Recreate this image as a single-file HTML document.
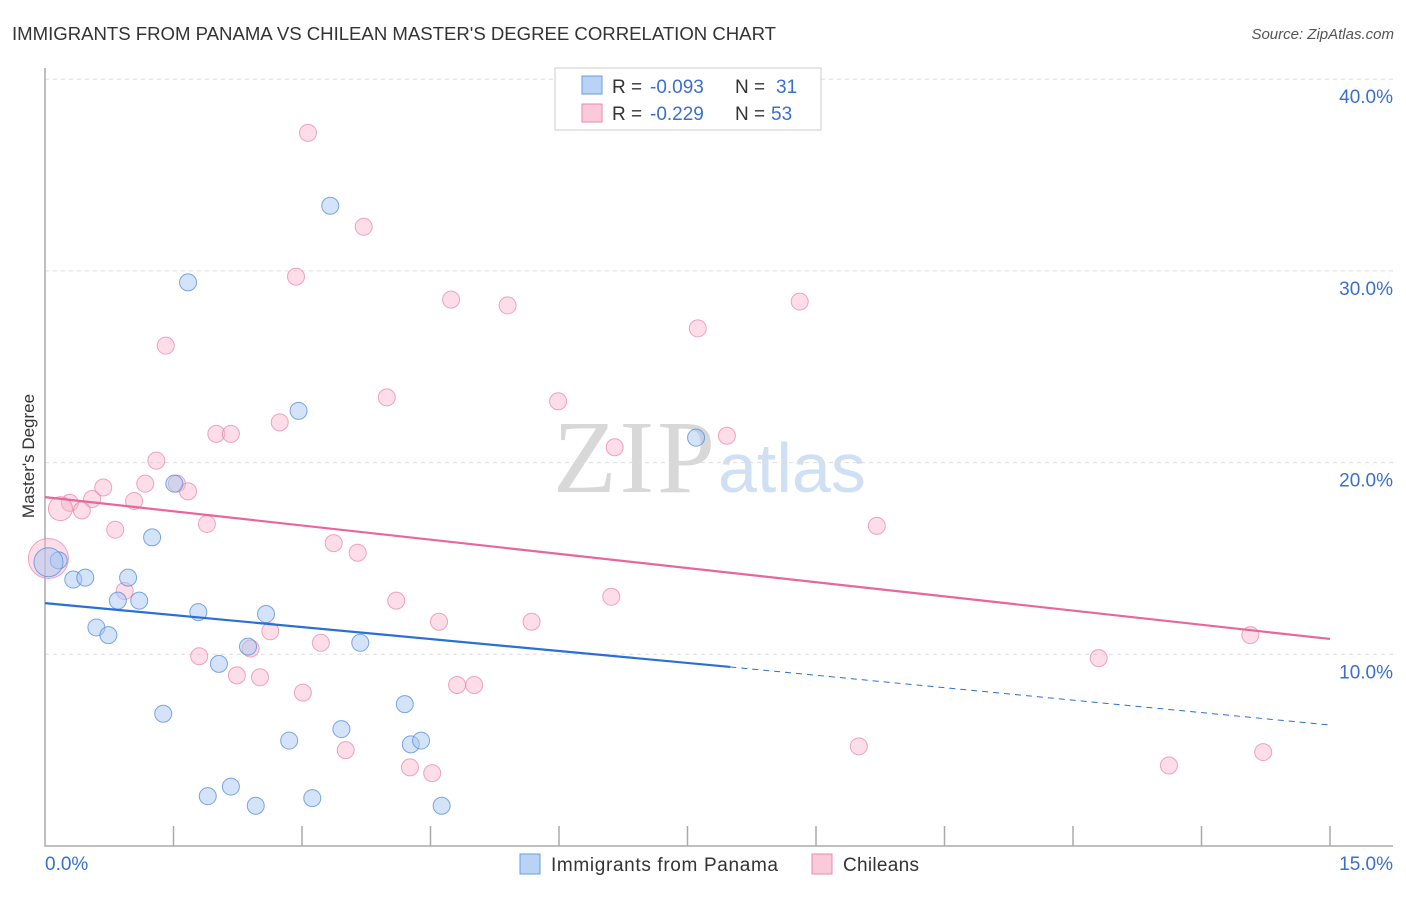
<!DOCTYPE html>
<html><head><meta charset="utf-8"><style>
body{margin:0;background:#fff;font-family:"Liberation Sans",sans-serif;}
</style></head><body>
<svg id="c" width="1406" height="892" font-family="Liberation Sans, sans-serif">
<text x="12" y="40" font-size="18.6" fill="#333" textLength="764">IMMIGRANTS FROM PANAMA VS CHILEAN MASTER'S DEGREE CORRELATION CHART</text>
<text x="1394" y="39" font-size="15" fill="#555" font-style="italic" text-anchor="end">Source: ZipAtlas.com</text>
<text x="34" y="456" font-size="17" fill="#333" text-anchor="middle" transform="rotate(-90 34 456)">Master's Degree</text>
<text x="553" y="492" font-size="104" fill="#d8d8d8" style="font-family:'Liberation Serif',serif" textLength="162">ZIP</text>
<text x="718" y="492" font-size="70" fill="#cfe0f5">atlas</text>
<g id="grid"></g><g id="pts"></g><g id="trend"></g>
<g>
<rect x="555" y="68" width="266" height="62" fill="#fff" stroke="#ccc"/>
<rect x="582" y="76" width="20" height="18" fill="#b8d3f5" stroke="#6a9ee0"/>
<rect x="582" y="104" width="20" height="18" fill="#fbcada" stroke="#e88aa8"/>
<text x="612" y="93" font-size="19" fill="#333">R =</text>
<text x="650" y="93" font-size="19" fill="#3a6fd0">-0.093</text>
<text x="735" y="93" font-size="19" fill="#333">N =</text>
<text x="776" y="93" font-size="19" fill="#3a6fd0">31</text>
<text x="612" y="120" font-size="19" fill="#333">R =</text>
<text x="650" y="120" font-size="19" fill="#3a6fd0">-0.229</text>
<text x="735" y="120" font-size="19" fill="#333">N =</text>
<text x="771" y="120" font-size="19" fill="#3a6fd0">53</text>
</g>
<g>
<rect x="520" y="854" width="20" height="20" fill="#b8d3f5" stroke="#6a9ee0"/>
<text x="551" y="871" font-size="19" fill="#333" textLength="227">Immigrants from Panama</text>
<rect x="812" y="854" width="20" height="20" fill="#fbcada" stroke="#e88aa8"/>
<text x="843" y="871" font-size="19" fill="#333" textLength="76">Chileans</text>
</g>
</svg>
<script>
const yTicks=[10,20,30,40];
const yTickLabels=["10.0%","20.0%","30.0%","40.0%"];
const blueX=[3.33,1.67,2.96,7.60,1.51,1.25,0.16,0.04,0.33,0.47,0.97,0.85,1.10,1.79,2.58,0.60,0.74,2.37,3.68,2.03,4.20,1.38,3.46,2.85,4.27,4.39,2.17,1.90,3.12,2.46,4.63];
const blueY=[33.4,29.4,22.7,21.3,18.9,16.1,14.9,14.8,13.9,14.0,14.0,12.8,12.8,12.2,12.1,11.4,11.0,10.4,10.6,9.5,7.4,6.9,6.1,5.5,5.3,5.5,3.1,2.6,2.5,2.1,2.1];
const blueR=[8,8,8,8,8,8,8,14,8,8,8,8,8,8,8,8,8,8,8,8,8,8,8,8,8,8,8,8,8,8,8];
const pinkX=[3.07,3.72,2.93,4.74,5.40,8.81,1.41,7.62,3.99,5.99,2.74,2.00,2.17,6.65,7.96,1.30,1.54,1.17,1.67,0.68,0.55,0.29,0.18,0.43,1.04,1.89,0.82,9.71,3.37,3.65,0.04,4.10,6.61,0.93,5.68,4.60,2.63,3.22,2.40,1.80,14.07,12.30,2.24,2.51,3.01,4.81,5.01,3.51,4.26,4.52,9.50,13.12,14.22];
const pinkY=[37.2,32.3,29.7,28.5,28.2,28.4,26.1,27.0,23.4,23.2,22.1,21.5,21.5,20.8,21.4,20.1,18.9,18.9,18.5,18.7,18.1,17.9,17.6,17.5,18.0,16.8,16.5,16.7,15.8,15.3,15.0,12.8,13.0,13.3,11.7,11.7,11.2,10.6,10.3,9.9,11.0,9.8,8.9,8.8,8.0,8.4,8.4,5.0,4.1,3.8,5.2,4.2,4.9];
const blueTrend=[12.67,9.34,6.31];
const pinkTrend=[18.2,10.8];
const X=v=>45+v/15*1285, Y=v=>846-v*19.17;
const NS="http://www.w3.org/2000/svg";
function mk(p,t,a){const e=document.createElementNS(NS,t);for(const k in a)e.setAttribute(k,a[k]);p.appendChild(e);return e;}
const g=document.getElementById('grid');
yTicks.forEach((t,i)=>{
 const l=mk(g,'line',{x1:45,x2:1393,y1:Y(t),y2:Y(t),stroke:'#ddd','stroke-dasharray':'4,4'});
 
 
 const tx=mk(g,'text',{x:1393,y:Y(t)+24,'font-size':19,fill:'#3a6fd0','text-anchor':'end'});
 tx.textContent=yTickLabels[i];
 
 
});
const ax=mk(g,'path',{d:'M45,68V846H1393',fill:'none',stroke:'#aaa','stroke-width':1.5});


for(let i=1;i<=10;i++){const t=mk(g,'line',{x1:X(i*1.5),x2:X(i*1.5),y1:826,y2:846,stroke:'#aaa','stroke-width':1.5});
 
 }
const x0=mk(g,'text',{x:45,y:870,'font-size':19,fill:'#3a6fd0'});x0.textContent='0.0%';


const x1=mk(g,'text',{x:1393,y:870,'font-size':19,fill:'#3a6fd0','text-anchor':'end'});x1.textContent='15.0%';


const P=document.getElementById('pts');
pinkX.forEach((v,i)=>{const r=i==30?20:(i==22?12:8.5);
 const c=mk(P,'circle',{cx:X(v),cy:Y(pinkY[i]),r:r,fill:'rgba(248,180,203,0.45)',stroke:'rgba(232,130,165,0.7)'});
 
 });
blueX.forEach((v,i)=>{
 const c=mk(P,'circle',{cx:X(v),cy:Y(blueY[i]),r:blueR[i]+0.5,fill:'rgba(170,200,240,0.5)',stroke:'rgba(80,140,220,0.75)'});
 
 });
const T=document.getElementById('trend');
const b1=mk(T,'line',{x1:X(0),y1:Y(blueTrend[0]),x2:X(8),y2:Y(blueTrend[1]),stroke:'#2a6fd6','stroke-width':2.2});


const b2=mk(T,'line',{x1:X(8),y1:Y(blueTrend[1]),x2:X(15),y2:Y(blueTrend[2]),stroke:'#2a6fd6','stroke-width':1,'stroke-dasharray':'6,5'});


const p1=mk(T,'line',{x1:X(0),y1:Y(pinkTrend[0]),x2:X(15),y2:Y(pinkTrend[1]),stroke:'#e8669a','stroke-width':2.2});


</script>
</body></html>
